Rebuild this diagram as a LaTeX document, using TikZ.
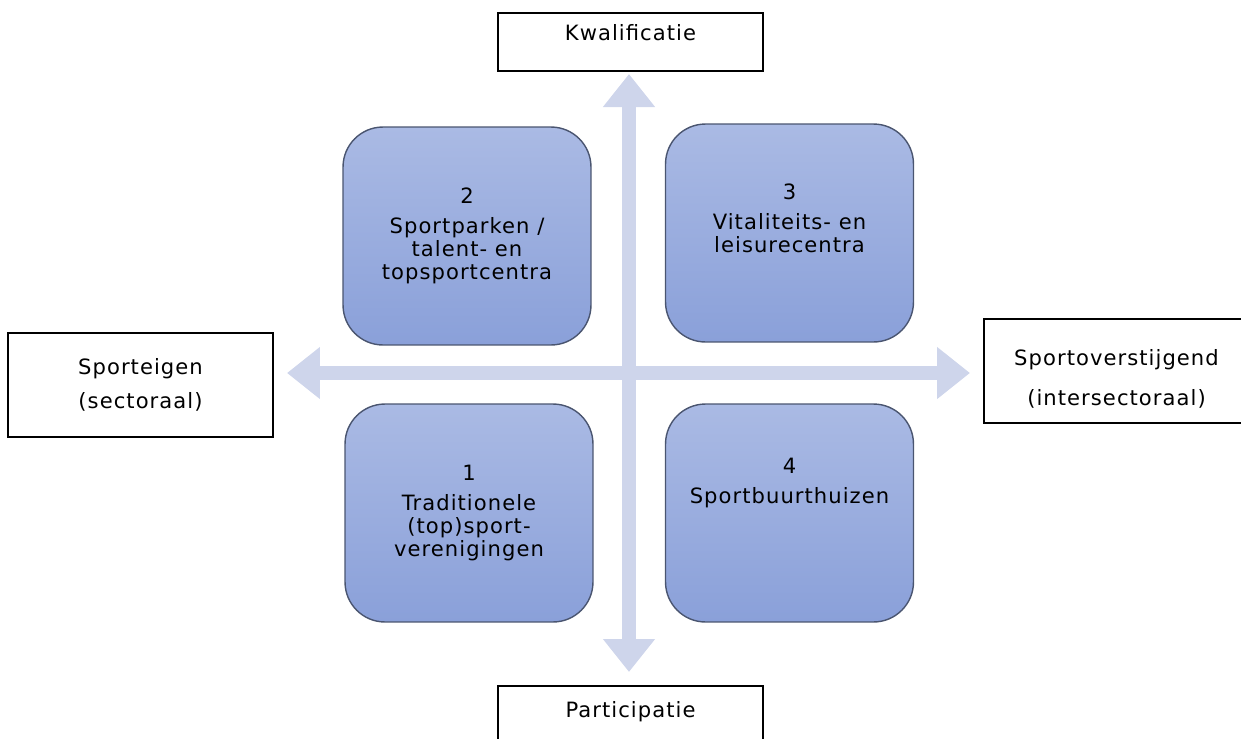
\documentclass[tikz,border=0pt]{standalone}
\usepackage{fontspec}
\setmainfont[LetterSpace=5]{DejaVu Sans}
\usetikzlibrary{arrows.meta}

\definecolor{quadtop}{HTML}{AABAE4}
\definecolor{quadbot}{HTML}{8AA0D9}
\definecolor{quadline}{HTML}{4A5570}
\definecolor{axisblue}{HTML}{CED5EB}

\tikzset{
    quad/.style={rectangle,rounded corners=0.8cm,draw=quadline,line width=0.8pt,
        top color=quadtop,bottom color=quadbot,minimum width=4.96cm,minimum height=4.36cm},
    quadtext/.style={align=center,font=\fontsize{12}{13}\selectfont},
    axislabel/.style={draw,line width=0.9pt,minimum width=5.3cm,align=center,
        font=\fontsize{12}{14}\selectfont},
    axis/.style={draw=axisblue,line width=0.29cm,
        {Triangle[width=1.0cm,length=0.66cm]}-{Triangle[width=1.0cm,length=0.66cm]}}
}

\begin{document}
\begin{tikzpicture}[x=0.02cm,y=-0.02cm]

            %\draw [help lines] (0,0) grid (1241,738);
            \useasboundingbox (0,0) rectangle (1241,738);

            \path   (467,236)   node (q2) [quad] {}
                    (789.5,233) node (q3) [quad] {}
                    (469,513)   node (q1) [quad] {}
                    (789.5,513) node (q4) [quad] {};

            \node (t2) [quadtext] at (q2) {2\\[4pt]Sportparken /\\talent- en\\topsportcentra};
            \node (t3) [quadtext] at ([yshift=0.3cm]q3.center) {3\\[4pt]Vitaliteits- en\\leisurecentra};
            \node (t1) [quadtext] at (q1) {1\\[4pt]Traditionele\\(top)sport-\\verenigingen};
            \node (t4) [quadtext] at ([yshift=0.6cm]q4.center) {4\\[4pt]Sportbuurthuizen};

            \path   (630.5,42)  node (kwal)  [axislabel,minimum height=1.16cm,text height=9pt,text depth=10.5pt] {Kwalificatie}
                    (630.5,715) node (part)  [axislabel,minimum height=1.16cm,text height=9pt,text depth=6pt] {Participatie}
                    (140.5,385) node (eigen) [axislabel,minimum height=2.08cm] {Sporteigen\\[5pt](sectoraal)}
                    (1116.5,371) node (over) [axislabel,minimum height=2.08cm] {\rule{0pt}{18pt}Sportoverstijgend\\[9pt](intersectoraal)};

            \coordinate (axw) at (287,373);
            \coordinate (axe) at (970,373);
            \coordinate (axn) at (629,74);
            \coordinate (axs) at (629,672);

            \draw[axis] (axw) -- (axe);
            \draw[axis] (axn) -- (axs);
        \end{tikzpicture}
\end{document}
